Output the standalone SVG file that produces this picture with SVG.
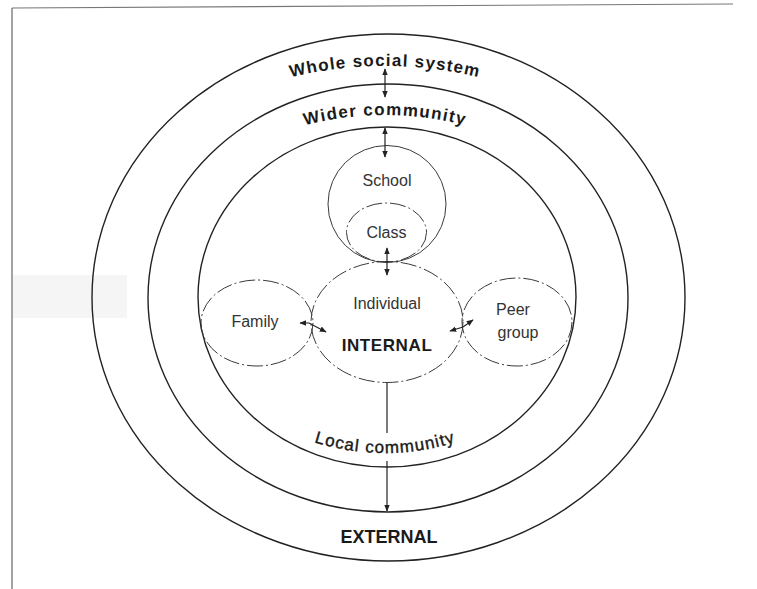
<svg xmlns="http://www.w3.org/2000/svg" width="757" height="589" viewBox="0 0 757 589">
  <style>
    .ring { fill: none; stroke: #222; stroke-width: 1.4; }
    .inner { fill: none; stroke: #3a3a3a; stroke-width: 1; }
    .dashed { stroke-dasharray: 16 3 2 3; }
    .ringlbl { font-family: "Liberation Sans", Arial, sans-serif; font-weight: bold; font-size: 17px; fill: #1a1a1a; }
    .lbl { font-family: "Liberation Sans", Arial, sans-serif; font-size: 16px; fill: #333; text-anchor: middle; }
    .conn { fill: none; stroke: #222; stroke-width: 1.2; }
  </style>
  <defs>
    <marker id="ah" viewBox="0 0 10 10" refX="9" refY="5" markerWidth="7" markerHeight="7" markerUnits="userSpaceOnUse" orient="auto-start-reverse">
      <path d="M0,1 L10,5 L0,9 z" fill="#222"/>
    </marker>
    <path id="arcWhole" d="M 250 89.6 A 398.6 398.6 0 0 1 520 89.6"/>
    <path id="arcWider" d="M 230 155.5 A 317 317 0 0 1 540 155.5"/>
    <path id="arcLocal" d="M 250 410.6 A 236 236 0 0 0 520 410.6"/>
  </defs>
  <rect width="757" height="589" fill="#ffffff"/>

  <g id="frame">
    <rect x="13" y="275" width="114" height="43" fill="#f5f5f5"/>
    <line x1="12" y1="8" x2="733" y2="4" stroke="#777" stroke-width="1.2"/>
    <line x1="12" y1="8" x2="12" y2="589" stroke="#666" stroke-width="1.2"/>
  </g>

  <g id="whole-social-system">
    <ellipse class="ring" cx="388.5" cy="297.5" rx="296.5" ry="263.5"/>
    <text class="ringlbl" letter-spacing="1.2"><textPath href="#arcWhole" startOffset="50%" text-anchor="middle">Whole social system</textPath></text>
  </g>

  <g id="wider-community">
    <ellipse class="ring" cx="388" cy="298" rx="240" ry="214"/>
    <text class="ringlbl" letter-spacing="1.3"><textPath href="#arcWider" startOffset="50%" text-anchor="middle">Wider community</textPath></text>
  </g>

  <g id="local-community">
    <ellipse class="ring" cx="387" cy="297" rx="189" ry="170"/>
    <text class="ringlbl" style="font-weight:normal" stroke="#1a1a1a" stroke-width="0.4" letter-spacing="1.1"><textPath href="#arcLocal" startOffset="50%" text-anchor="middle">Local community</textPath></text>
  </g>

  <g id="external">
    <text x="389" y="543" font-family="Liberation Sans, Arial, sans-serif" font-weight="bold" font-size="18" fill="#1a1a1a" text-anchor="middle">EXTERNAL</text>
  </g>

  <g id="school">
    <ellipse class="inner" cx="387" cy="204" rx="59" ry="58.5"/>
    <text class="lbl" x="387" y="186">School</text>
  </g>

  <g id="class">
    <ellipse class="inner dashed" cx="386.5" cy="232.5" rx="40" ry="29.5"/>
    <text class="lbl" x="386.5" y="238">Class</text>
  </g>

  <g id="individual">
    <ellipse class="inner dashed" cx="387" cy="322" rx="76" ry="60.5"/>
    <text class="lbl" x="387" y="309">Individual</text>
    <text x="387" y="351" font-family="Liberation Sans, Arial, sans-serif" font-weight="bold" font-size="17" letter-spacing="0.6" fill="#1a1a1a" text-anchor="middle">INTERNAL</text>
  </g>

  <g id="family">
    <ellipse class="inner dashed" cx="257" cy="323" rx="56" ry="43"/>
    <text class="lbl" x="255" y="327">Family</text>
  </g>

  <g id="peer-group">
    <ellipse class="inner dashed" cx="517" cy="322" rx="55" ry="44"/>
    <text class="lbl" x="513" y="315">Peer</text>
    <text class="lbl" x="518" y="338">group</text>
  </g>

  <g id="connectors">
    <line class="conn" x1="385" y1="69" x2="385" y2="97" marker-start="url(#ah)" marker-end="url(#ah)"/>
    <line class="conn" x1="385" y1="128" x2="385" y2="157" marker-start="url(#ah)" marker-end="url(#ah)"/>
    <line class="conn" x1="387" y1="248" x2="387" y2="275" marker-start="url(#ah)" marker-end="url(#ah)"/>
    <path class="conn" d="M 300 323 L 309 323 L 326 332" marker-start="url(#ah)" marker-end="url(#ah)"/>
    <path class="conn" d="M 473 320 L 463 327 L 450 331" marker-start="url(#ah)" marker-end="url(#ah)"/>
    <path class="conn" d="M 387 383 V 433 M 387 461 V 511" marker-end="url(#ah)"/>
  </g>
</svg>
